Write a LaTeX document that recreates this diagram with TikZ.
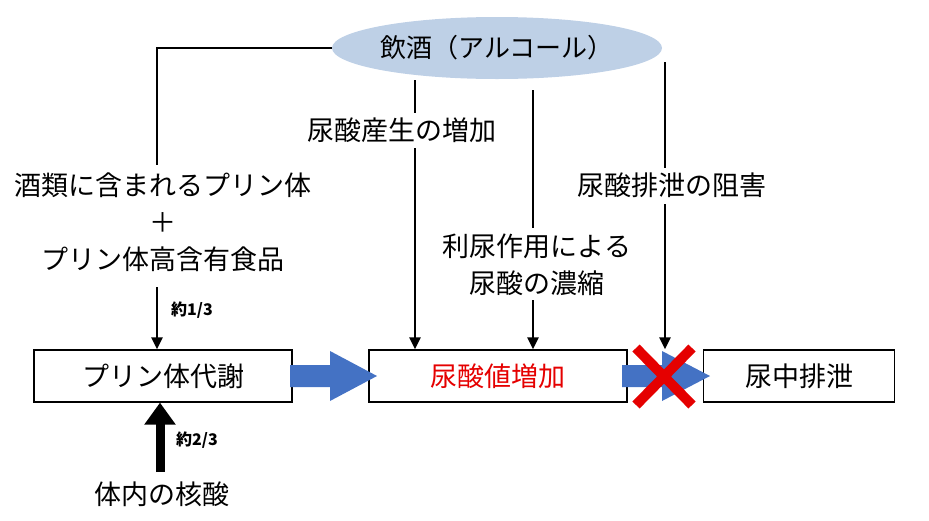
\documentclass[tikz,border=0pt]{standalone}
\usepackage{fontspec}
\setmainfont{Noto Sans CJK JP}
\usetikzlibrary{shapes.geometric,arrows.meta}
\begin{document}
\begin{tikzpicture}[x=1pt,y=-1pt,
  box/.style={draw,line width=1.2pt,minimum width=258pt,minimum height=52pt,inner sep=0pt,font=\fontsize{27}{30}\selectfont},
  lbl/.style={font=\fontsize{27}{37}\selectfont,align=center,inner sep=0pt},
  small/.style={font=\bfseries\fontsize{16}{18}\selectfont,inner sep=0pt},
  ln/.style={line width=2.5pt},
  ar/.style={line width=2.5pt,-{Triangle[length=12pt,width=11pt]}}]
\useasboundingbox (0,0) rectangle (929,520);
\definecolor{bl}{RGB}{68,114,196}
\node[ellipse,fill={rgb,255:red,190;green,208;blue,230},minimum width=330pt,minimum height=62pt,inner sep=0pt,font=\fontsize{26}{30}\selectfont] (e) at (497,48) {飲酒（アルコール）};
\node[box] (b1) at (163,376) {プリン体代謝};
\node[box] (b2) at (498,376) {\textcolor{red!90!black}{尿酸値増加}};
\node[box,minimum width=191pt] (b3) at (799,376) {尿中排泄};
\node[lbl] (t1) at (163,222) {酒類に含まれるプリン体\\＋\\プリン体高含有食品};
\node[lbl] (t2) at (402,130) {尿酸産生の増加};
\node[lbl] (t3) at (537,265) {利尿作用による\\尿酸の濃縮};
\node[lbl] (t4) at (672,185) {尿酸排泄の阻害};
\node[lbl] (t5) at (162,494) {体内の核酸};
\node[small] (s1) at (192,310) {約1/3};
\node[small] (s2) at (197,440) {約2/3};
\coordinate (c1) at (157,48);
\coordinate (a1) at (157,287);
\coordinate (a2) at (415,148);
\coordinate (a3) at (533,300);
\coordinate (a4) at (665,204);
\coordinate (a5) at (160,472);
\draw[ln] (e.west) -- (c1) -- (157,165);
\draw[ar] (a1) -- (a1 |- b1.north);
\draw[ln] (415,80) -- (415,113);
\draw[ar] (a2) -- (a2 |- b2.north);
\draw[ln] (533,90) -- (533,228);
\draw[ar] (a3) -- (a3 |- b2.north);
\draw[ln] (665,62) -- (665,168);
\draw[ar] (a4) -- (a4 |- b2.north);
\draw[line width=9pt,-{Triangle[length=22pt,width=30pt]}] (a5) -- (a5 |- b1.south);
\fill[bl] (290,365) -- (330,365) -- (330,351) -- (377,376) -- (330,401) -- (330,387) -- (290,387) -- cycle;
\fill[bl] (622,365) -- (662,365) -- (662,351) -- (710,376) -- (662,401) -- (662,387) -- (622,387) -- cycle;
\draw[red!90!black,line width=10pt] (636,348) -- (692,405) (692,348) -- (636,405);
\end{tikzpicture}
\end{document}
